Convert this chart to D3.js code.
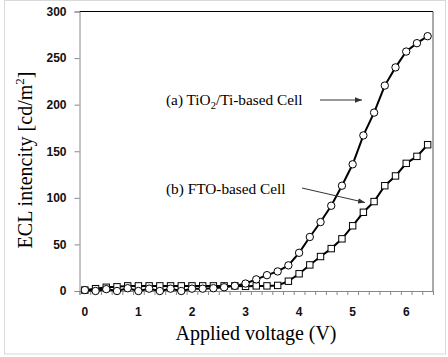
<!DOCTYPE html>
<html><head><meta charset="utf-8">
<script src="https://cdn.jsdelivr.net/npm/d3@7"></script>
<style>body{margin:0;background:#fff}svg{display:block}</style>
</head><body>
<script>
const voltages = [0,0.2,0.4,0.6,0.8,1.0,1.2,1.4,1.6,1.8,2.0,2.2,2.4,2.6,2.8,3.0,3.2,3.4,3.6,3.8,4.0,4.2,4.4,4.6,4.8,5.0,5.2,5.4,5.6,5.8,6.0,6.2,6.4];
const tiCell = [1,0,2,0,3,0,2.5,0,2.5,0,2.5,2.5,3,4,5.5,8,12.5,17,21,27.5,41,58,74,91.5,113,136,167,191.5,220.5,240,257,266,273.5];
const ftoCell = [1,2.5,4,4.5,5.5,5.5,5.5,5.5,5.5,5.5,5.5,5.5,5.5,5.5,5.5,5,5.5,5.5,6,10.5,18.5,28,37,45.5,56,70,84.5,96,113,123.5,137,144.5,157];
const yTicks = [0,50,100,150,200,250,300];
const xLabels = [0,1,2,3,4,5,6];

const W = 448, H = 357;
const svg = d3.select("body").append("svg").attr("width", W).attr("height", H);
svg.append("rect").attr("x",4.5).attr("y",0.5).attr("width",441).attr("height",353.5)
  .attr("fill","#fff").attr("stroke","#d9d9d9");

const x = d3.scaleLinear().domain([-0.1, 6.5]).range([79.5, 433]);
const y = d3.scaleLinear().domain([0, 300]).range([291, 11.5]);

// frame
const g = svg.append("g");
g.append("line").attr("x1",x.range()[0]).attr("x2",x.range()[1]).attr("y1",11.5).attr("y2",11.5).attr("stroke","#000");
g.append("line").attr("x1",433).attr("x2",433).attr("y1",11.5).attr("y2",291).attr("stroke","#555");

// y axis
const yAxis = d3.axisLeft(y).tickValues(yTicks).tickSize(5).tickPadding(8);
const ya = svg.append("g").attr("transform","translate(79.5,0)").call(yAxis);
ya.select(".domain").attr("stroke","#888");
ya.selectAll(".tick line").attr("stroke","#888");
ya.selectAll("text").attr("font-family","Liberation Sans, Arial, sans-serif").attr("font-weight","bold").attr("font-size","12px").attr("fill","#111");

// x axis: category boundaries ticks
const boundaries = voltages.map(v => v - 0.1).concat([6.5]);
const xAxis = d3.axisBottom(x).tickValues(boundaries).tickSize(4).tickFormat("");
const xa = svg.append("g").attr("transform","translate(0,291)").call(xAxis);
xa.select(".domain").attr("stroke","#888");
xa.selectAll(".tick line").attr("stroke","#888");
svg.append("g").selectAll("text").data(xLabels).join("text")
  .attr("x", d => x(d)).attr("y", 316).attr("text-anchor","middle")
  .attr("font-family","Liberation Sans, Arial, sans-serif").attr("font-weight","bold").attr("font-size","12px").attr("fill","#111")
  .text(d => d);

// series
const line = d3.line().x((d,i) => x(voltages[i])).y(d => y(d));
svg.append("path").datum(ftoCell).attr("d", line).attr("fill","none").attr("stroke","#000").attr("stroke-width",2);
svg.append("g").selectAll("rect").data(ftoCell).join("rect")
  .attr("x",(d,i)=>x(voltages[i])-3.2).attr("y",d=>y(d)-3.2).attr("width",6.4).attr("height",6.4)
  .attr("fill","#fff").attr("stroke","#000").attr("stroke-width",1);
svg.append("path").datum(tiCell).attr("d", line).attr("fill","none").attr("stroke","#000").attr("stroke-width",2);
svg.append("g").selectAll("circle").data(tiCell).join("circle")
  .attr("cx",(d,i)=>x(voltages[i])).attr("cy",d=>y(d)).attr("r",3.7)
  .attr("fill","#fff").attr("stroke","#000").attr("stroke-width",1);

// axis titles
const serif = "Liberation Serif, 'Times New Roman', serif";
const yl = svg.append("text").attr("transform","translate(32,160) rotate(-90)").attr("text-anchor","middle")
  .attr("font-family",serif).attr("font-size","20px").attr("fill","#000");
yl.append("tspan").text("ECL intencity [cd/m");
yl.append("tspan").attr("font-size","13px").attr("dy",-8).text("2");
yl.append("tspan").attr("dy",8).text("]");
svg.append("text").attr("x",256).attr("y",340).attr("text-anchor","middle")
  .attr("font-family",serif).attr("font-size","20px").attr("fill","#000").text("Applied voltage (V)");

// annotations
svg.append("defs").append("marker").attr("id","ah").attr("viewBox","0 0 10 10").attr("refX",10).attr("refY",5)
  .attr("markerWidth",7).attr("markerHeight",7).attr("orient","auto-start-reverse")
  .append("path").attr("d","M0,1 L10,5 L0,9 z").attr("fill","#333");
const ta = svg.append("text").attr("x",166).attr("y",105).attr("font-family",serif).attr("font-size","15.3px").attr("fill","#000");
ta.append("tspan").text("(a) TiO");
ta.append("tspan").attr("font-size","10.5px").attr("dy",4).text("2");
ta.append("tspan").attr("dy",-4).text("/Ti-based Cell");
svg.append("line").attr("x1",320).attr("y1",100).attr("x2",362).attr("y2",100).attr("stroke","#333").attr("stroke-width",1).attr("marker-end","url(#ah)");
svg.append("text").attr("x",166).attr("y",194).attr("font-family",serif).attr("font-size","15.3px").attr("fill","#000").text("(b) FTO-based Cell");
svg.append("line").attr("x1",302).attr("y1",188).attr("x2",365).attr("y2",202.5).attr("stroke","#333").attr("stroke-width",1).attr("marker-end","url(#ah)");
</script>
</body></html>
